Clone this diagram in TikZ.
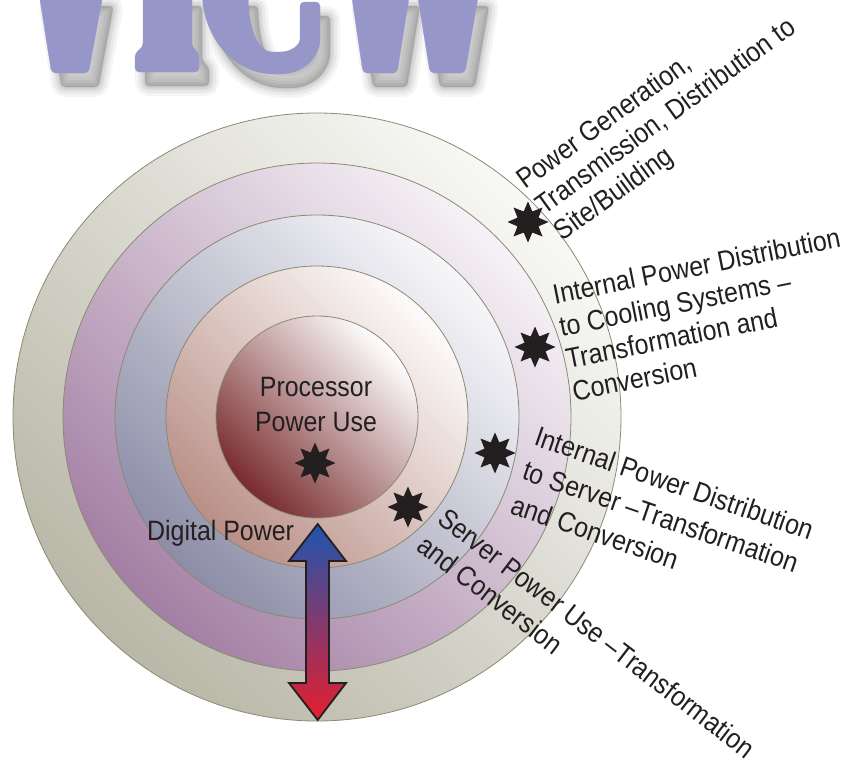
\documentclass[tikz,border=0pt]{standalone}
\usepackage{fontspec}
\setmainfont{Liberation Sans}
\newfontfamily\labelfont[FakeStretch=0.89]{Liberation Sans}
\usetikzlibrary{shapes.geometric}

\definecolor{ink}{HTML}{231F20}
\definecolor{ringline}{HTML}{8A8A70}
\definecolor{viewblue}{RGB}{150,150,200}
\definecolor{viewshadow}{RGB}{90,90,90}
\definecolor{griddark}{HTML}{B9B7A7}
\definecolor{gridlight}{HTML}{F8F8F5}
\definecolor{cooldark}{HTML}{A37FA3}
\definecolor{coollight}{HTML}{F6F2F6}
\definecolor{distdark}{HTML}{8D8DA8}
\definecolor{distlight}{HTML}{F7F7FA}
\definecolor{serverdark}{HTML}{B98F87}
\definecolor{serverlight}{HTML}{FDFBFA}
\definecolor{cpudark}{HTML}{782B2D}
\definecolor{cpulight}{HTML}{FFFFFF}
\definecolor{arrowtop}{RGB}{30,85,175}
\definecolor{arrowmid}{RGB}{128,58,110}
\definecolor{arrowbot}{RGB}{230,30,45}

\tikzset{
  ringdisk/.style n args={3}{circle, minimum size=#1, inner sep=0pt,
    draw=ringline, line width=0.8pt,
    top color=#3, bottom color=#2, shading angle=-45},
  burst/.style={star, star points=8, star point ratio=1.8,
    minimum size=41pt, inner sep=0pt, fill=ink, draw=none},
  ringtext/.style={text=ink, font=\labelfont\fontsize{28}{#1}\selectfont,
    align=left, inner sep=0pt, anchor=north west},
  bigarrow/.style={draw=ink, line width=1.8pt, line join=miter,
    top color=arrowtop, middle color=arrowmid, bottom color=arrowbot}
}

\begin{document}
\begin{tikzpicture}[x=1pt, y=-1pt]
\useasboundingbox (0,0) rectangle (864,764);

% heading letters, cut by the top edge, with a soft drop shadow
\foreach \dx/\dy/\lw/\op/\col in {10/14/20/0.06/viewshadow, 10/14/14/0.08/viewshadow,
    10/14/8/0.10/viewshadow, 10/14/3/0.12/viewshadow, 0/0/0.2/1/viewblue} {
  \begin{scope}[shift={(\dx,\dy)}]
    \path[fill=\col, draw=\col, line width=\lw, opacity=\op, rounded corners=4]
      (38.7,-8) -- (51.5,73) -- (88.5,73) -- (103.5,-8) -- cycle
      (143,-8) -- (143,47) -- (135,53) -- (135,72) -- (199,72) -- (199,53)
        -- (192,47) -- (192,-8) -- cycle
      (202,-8) .. controls (205,45) and (240,74) .. (277,74)
        .. controls (302,74) and (320,58) .. (320,35) -- (320,2) -- (300,2)
        -- (300,35) .. controls (300,46) and (290,52) .. (276,52)
        .. controls (260,52) and (249,35) .. (248,-8) -- cycle
      (351,-8) -- (363,73) -- (397,73) -- (410,-8) -- cycle
      (417,-8) -- (430,73) -- (465,73) -- (479,-8) -- cycle;
  \end{scope}
}

% concentric power rings
\node[ringdisk={608pt}{griddark}{gridlight}]     (grid)   at (317,417) {};
\node[ringdisk={508pt}{cooldark}{coollight}]     (cool)   at (317,417) {};
\node[ringdisk={404pt}{distdark}{distlight}]     (dist)   at (317,417) {};
\node[ringdisk={302pt}{serverdark}{serverlight}] (server) at (317,417) {};
\node[ringdisk={202pt}{cpudark}{cpulight}]       (cpu)    at (317,417) {};

% loss points
\node[burst] (gridstar)   at (528,222) {};
\node[burst] (coolstar)   at (535,347) {};
\node[burst] (diststar)   at (495,453) {};
\node[burst] (serverstar) at (408,507) {};
\node[burst] (cpustar)    at (315,463) {};

% texts
\node[ringtext=35, align=center, anchor=north] (cputext) at (316,377)
  {Processor\\Power Use};
\node[ringtext=33, anchor=base west] (digital) at (147,540) {Digital Power};
\node[ringtext=32, rotate=36] (gridtext) at (513,173.5)
  {Power Generation,\\Transmission, Distribution to\\Site/Building};
\node[ringtext=33, rotate=11.3] (cooltext) at (551,284.1)
  {Internal Power Distribution\\to Cooling Systems –\\Transformation and\\Conversion};
\node[ringtext=36, rotate=-19] (disttext) at (539.6,425.5)
  {Internal Power Distribution\\to Server –Transformation\\and Conversion};
\node[ringtext=34, rotate=-37.5] (servertext) at (448.4,505.9)
  {Server Power Use –Transformation\\and Conversion};

% two-way power arrow
\path[bigarrow]
  (317.7,524) -- (346,561) -- (329,561) -- (329,683) -- (346,683)
  -- (317.7,720) -- (289,683) -- (306,683) -- (306,561) -- (289,561) -- cycle;
\end{tikzpicture}
\end{document}
